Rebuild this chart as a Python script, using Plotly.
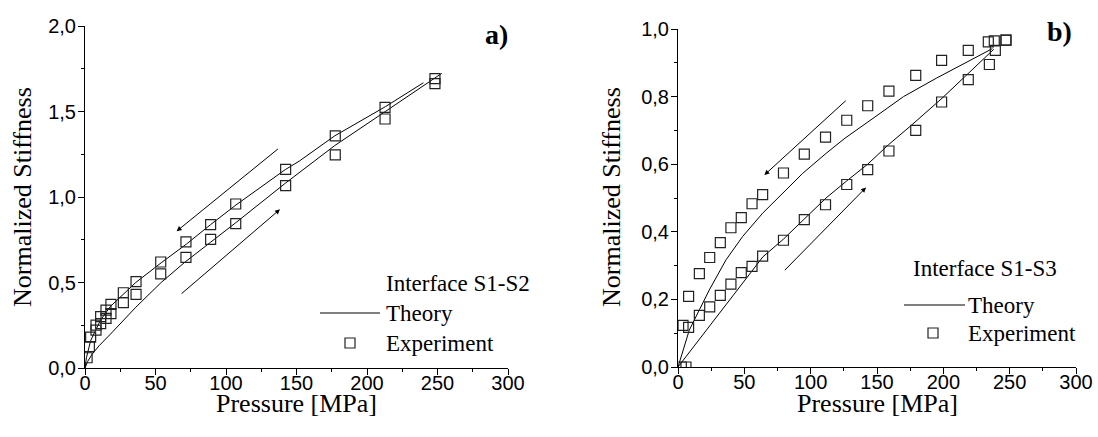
import plotly.graph_objects as go

# ---------------- Panel a) Interface S1-S2 ----------------
a_exp_load_x = [3.1, 7.8, 11.1, 14.9, 18.4, 27.2, 36.2, 53.7, 71.6, 89.1, 106.9, 142.3, 177.5, 212.8, 248.2]
a_exp_load_y = [0.125, 0.222, 0.26, 0.29, 0.318, 0.382, 0.431, 0.55, 0.647, 0.752, 0.844, 1.066, 1.246, 1.456, 1.663]
a_exp_unload_x = [248.2, 212.8, 177.5, 142.3, 106.9, 89.1, 71.6, 53.7, 36.2, 27.2, 18.4, 14.9, 11.1, 7.8, 4.0, 1.5]
a_exp_unload_y = [1.692, 1.524, 1.358, 1.162, 0.959, 0.838, 0.737, 0.62, 0.505, 0.44, 0.372, 0.339, 0.30, 0.251, 0.18, 0.06]

a_th_load_x = [0, 2, 5, 10, 20, 36, 54, 71, 89, 107, 142, 177, 213, 253]
a_th_load_y = [0, 0.04, 0.08, 0.13, 0.215, 0.355, 0.50, 0.62, 0.735, 0.85, 1.08, 1.30, 1.50, 1.723]
a_th_unload_x = [0, 1, 4, 11, 18, 27, 36, 54, 72, 89, 107, 142, 152, 177, 213, 240]
a_th_unload_y = [0, 0.06, 0.16, 0.28, 0.36, 0.43, 0.50, 0.615, 0.725, 0.838, 0.953, 1.16, 1.21, 1.357, 1.528, 1.668]

# arrows: (start x, start y, tip x, tip y)
a_arrow_unload = [137.9, 1.288, 65.0, 0.800]
a_arrow_load = [67.4, 0.427, 138.3, 0.928]

# ---------------- Panel b) Interface S1-S3 ----------------
b_exp_load_x = [2.5, 8.0, 16.1, 23.9, 31.9, 39.9, 47.7, 55.8, 63.8, 79.5, 95.2, 111.2, 127.2, 143, 159, 179.2, 198.7, 218.8, 234.7, 239.2, 247.2]
b_exp_load_y = [0.0, 0.117, 0.153, 0.178, 0.212, 0.245, 0.279, 0.298, 0.328, 0.375, 0.436, 0.480, 0.540, 0.584, 0.639, 0.700, 0.784, 0.850, 0.895, 0.937, 0.967]
b_exp_unload_x = [247.2, 238.4, 233.9, 218.8, 198.7, 179.2, 159, 143, 127.2, 111.2, 95.2, 79.5, 63.8, 55.8, 47.7, 39.9, 31.9, 23.9, 16.1, 8.0, 3.8, 6.0]
b_exp_unload_y = [0.967, 0.965, 0.962, 0.937, 0.907, 0.863, 0.816, 0.773, 0.730, 0.680, 0.630, 0.574, 0.510, 0.483, 0.442, 0.412, 0.368, 0.324, 0.276, 0.209, 0.123, 0.0]

b_th_load_x = [0, 16, 32, 48, 64, 79.4, 95.2, 111.6, 127, 143, 158.5, 175, 199, 220, 238]
b_th_load_y = [0, 0.082, 0.164, 0.245, 0.326, 0.378, 0.437, 0.50, 0.55, 0.60, 0.657, 0.712, 0.795, 0.874, 0.94]
b_th_unload_x = [0, 8.5, 16.1, 23.6, 36.2, 48.7, 63.8, 78.9, 94, 111.6, 125.9, 150, 170, 195, 220, 237]
b_th_unload_y = [0, 0.109, 0.169, 0.228, 0.317, 0.386, 0.455, 0.514, 0.573, 0.632, 0.677, 0.744, 0.80, 0.855, 0.908, 0.942]

b_arrow_unload = [127.6, 0.792, 65.1, 0.568]
b_arrow_load = [79.4, 0.282, 141.7, 0.531]

# ---------------- Axes / labels ----------------
x_ticks = [0, 50, 100, 150, 200, 250, 300]
x_ticktext = ["0", "50", "100", "150", "200", "250", "300"]
x_minor = [25, 75, 125, 175, 225, 275]
a_y_ticks = [0.0, 0.5, 1.0, 1.5, 2.0]
a_y_ticktext = ["0,0", "0,5", "1,0", "1,5", "2,0"]
a_y_minor = [0.25, 0.75, 1.25, 1.75]
b_y_ticks = [0.0, 0.2, 0.4, 0.6, 0.8, 1.0]
b_y_ticktext = ["0,0", "0,2", "0,4", "0,6", "0,8", "1,0"]
b_y_minor = [0.1, 0.3, 0.5, 0.7, 0.9]

x_title = "Pressure [MPa]"
y_title = "Normalized Stiffness"
legend_titles = ["Interface S1-S2", "Interface S1-S3"]
legend_items = ["Theory", "Experiment"]
panel_labels = ["a)", "b)"]

W, H = 1098, 437
def px(v):
    return v / W
def py(v):
    return 1 - v / H

SERIF = "Liberation Serif"
SANS = "Liberation Sans"
LINE = dict(color="black", width=1)
MARK = dict(symbol="square-open", size=10, color="#222", line=dict(width=1.2, color="#222"))

fig = go.Figure()
for xs, ys, k in [(a_th_load_x, a_th_load_y, ""), (a_th_unload_x, a_th_unload_y, ""),
                  (b_th_load_x, b_th_load_y, "2"), (b_th_unload_x, b_th_unload_y, "2")]:
    fig.add_trace(go.Scatter(x=xs, y=ys, mode="lines", line=LINE, xaxis="x" + k, yaxis="y" + k,
                             showlegend=False, name="Theory"))
for xs, ys, k in [(a_exp_load_x, a_exp_load_y, ""), (a_exp_unload_x, a_exp_unload_y, ""),
                  (b_exp_load_x, b_exp_load_y, "2"), (b_exp_unload_x, b_exp_unload_y, "2")]:
    fig.add_trace(go.Scatter(x=xs, y=ys, mode="markers", marker=MARK, xaxis="x" + k, yaxis="y" + k,
                             showlegend=False, name="Experiment"))

def axis(domain, rng, tv, tt, minor, anchor, standoff):
    return dict(domain=domain, range=rng, tickvals=tv, ticktext=tt, anchor=anchor, automargin=False,
                showline=True, linecolor="black", linewidth=1, ticks="outside", ticklen=6, tickwidth=1,
                tickcolor="black", showgrid=False, zeroline=False, mirror=False, ticklabelstandoff=standoff,
                tickfont=dict(family=SANS, size=20, color="black"),
                minor=dict(tickvals=minor, ticklen=3, ticks="outside", tickcolor="black", tickwidth=1))

xa = axis([px(85), px(508)], [0, 300], x_ticks, x_ticktext, x_minor, "y", -9)
ya = axis([py(368), py(26)], [0, 2.0], a_y_ticks, a_y_ticktext, a_y_minor, "x", -2)
xb = axis([px(678), px(1076)], [0, 300], x_ticks, x_ticktext, x_minor, "y2", -9)
yb = axis([py(367), py(29)], [0, 1.0], b_y_ticks, b_y_ticktext, b_y_minor, "x2", -2)

annotations = []
shapes = []
for arr, xr, yr in [(a_arrow_unload, "x", "y"), (a_arrow_load, "x", "y"), (b_arrow_unload, "x2", "y2"), (b_arrow_load, "x2", "y2")]:
    annotations.append(dict(x=arr[2], y=arr[3], ax=arr[0], ay=arr[1], xref=xr, yref=yr, axref=xr, ayref=yr,
                            text="", showarrow=True, arrowhead=2, arrowsize=1, arrowwidth=1, arrowcolor="black"))

TITLE_FONT = dict(family=SERIF, size=26, color="black")
for cx, cy_x, cx_y in [(296.5, 403, 22), (877, 403, 611)]:
    annotations.append(dict(x=px(cx), y=py(cy_x), xref="paper", yref="paper", text=x_title, showarrow=False,
                            xanchor="center", yanchor="middle", font=TITLE_FONT))
    annotations.append(dict(x=px(cx_y), y=py(197), xref="paper", yref="paper", text=y_title, showarrow=False,
                            xanchor="center", yanchor="middle", textangle=-90, font=TITLE_FONT))

LEG = dict(family=SERIF, size=23, color="black")
def legend(title, title_left, title_y, text_left, y1, y2, line_x0, line_x1, sq_x):
    annotations.append(dict(x=px(title_left), y=py(title_y), xref="paper", yref="paper", text=title, showarrow=False,
                            xanchor="left", yanchor="middle", font=LEG))
    annotations.append(dict(x=px(text_left), y=py(y1), xref="paper", yref="paper", text=legend_items[0], showarrow=False,
                            xanchor="left", yanchor="middle", font=LEG))
    annotations.append(dict(x=px(text_left), y=py(y2), xref="paper", yref="paper", text=legend_items[1], showarrow=False,
                            xanchor="left", yanchor="middle", font=LEG))
    shapes.append(dict(type="line", xref="paper", yref="paper", x0=px(line_x0), x1=px(line_x1),
                       y0=py(y1), y1=py(y1), line=dict(color="black", width=1)))
    shapes.append(dict(type="rect", xref="paper", yref="paper", x0=px(sq_x - 5), x1=px(sq_x + 5),
                       y0=py(y2 - 5), y1=py(y2 + 5), line=dict(color="#222", width=1.2)))

legend(legend_titles[0], 384, 283, 384, 313, 343, 320, 380, 350)
legend(legend_titles[1], 911, 268, 966, 305, 333, 904, 965, 933)

annotations.append(dict(x=px(496), y=py(17), xref="paper", yref="paper", text="<b>" + panel_labels[0] + "</b>",
                        showarrow=False, font=dict(family=SERIF, size=28, color="black")))
annotations.append(dict(x=px(1074), y=py(14), xref="paper", yref="paper", text="<b>" + panel_labels[1] + "</b>",
                        showarrow=False, font=dict(family=SERIF, size=28, color="black")))

fig.update_layout(width=W, height=H, margin=dict(l=0, r=0, t=0, b=0), paper_bgcolor="white", plot_bgcolor="white",
                  xaxis=xa, yaxis=ya, xaxis2=xb, yaxis2=yb, annotations=annotations, shapes=shapes, showlegend=False)
fig.write_html("out.html", config={"displayModeBar": False},
               post_script="document.body.style.margin='0';document.body.style.overflow='hidden';")
